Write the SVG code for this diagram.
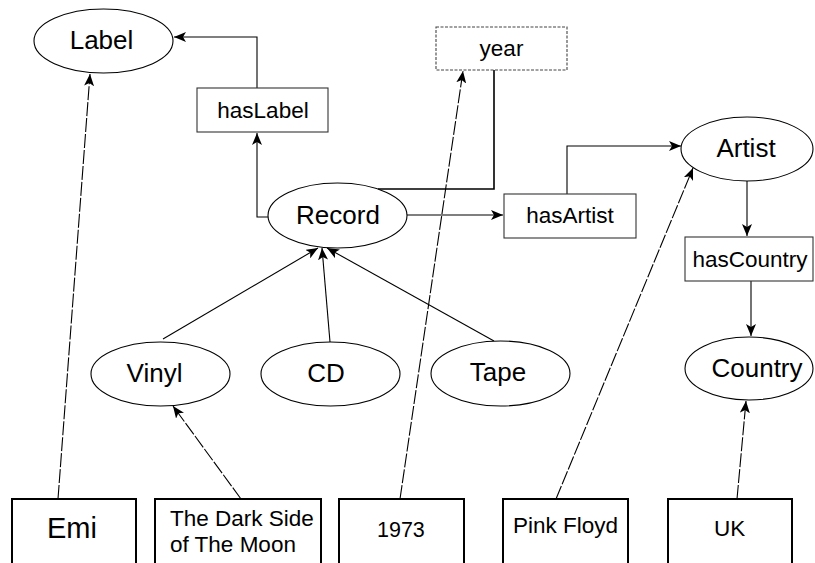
<svg xmlns="http://www.w3.org/2000/svg" width="815" height="563" viewBox="0 0 815 563">
<style>
  .ell { fill: #fff; stroke: #000; stroke-width: 1.1; }
  .box { fill: #fff; stroke: #333; stroke-width: 1.1; }
  .inst { fill: #fff; stroke: #000; stroke-width: 2; }
  .t { font-family: "Liberation Sans", Arial, sans-serif; fill: #000; }
  .e { font-size: 26px; text-anchor: middle; }
  .b { font-size: 22.5px; text-anchor: middle; }
  .i { font-size: 22.5px; }
  .con { fill: none; stroke: #000; stroke-width: 1.1; }
  .dash { stroke-dasharray: 14 2; }
</style>
<defs>
  <marker id="arr" viewBox="0 0 12 10" refX="12" refY="5" markerWidth="12" markerHeight="10" markerUnits="userSpaceOnUse" orient="auto">
    <path d="M0,0 L12,5 L0,10 L3,5 z" fill="#000"/>
  </marker>
</defs>

<g id="connectors">
  <path class="con" d="M257,88 L257,37 L174,37" marker-end="url(#arr)"/>
  <path class="con" d="M268,217 L257,217 L257,133" marker-end="url(#arr)"/>
  <path class="con" d="M378,189 L494,189 L494,70" style="stroke-width:1.6"/>
  <path class="con" d="M407,215 L503,215" marker-end="url(#arr)"/>
  <path class="con" d="M567,194 L567,146 L681,146" marker-end="url(#arr)"/>
  <path class="con" d="M747,181 L747,236" marker-end="url(#arr)"/>
  <path class="con" d="M751,281 L751,336" marker-end="url(#arr)"/>
  <path class="con" d="M163,339 L318,248" marker-end="url(#arr)"/>
  <path class="con" d="M330,342 L322,248" marker-end="url(#arr)"/>
  <path class="con" d="M494,341 L327,248" marker-end="url(#arr)"/>
  <path class="con dash" d="M58,499 L90,74" marker-end="url(#arr)"/>
  <path class="con dash" d="M241,499 L173,406" marker-end="url(#arr)"/>
  <path class="con dash" d="M400,499 L463,71" marker-end="url(#arr)"/>
  <path class="con dash" d="M556,499 L693,168" marker-end="url(#arr)"/>
  <path class="con dash" d="M737,499 L746,401" marker-end="url(#arr)"/>
</g>

<g id="Label"><ellipse class="ell" cx="103.5" cy="41" rx="69.5" ry="32"/><text class="t e" x="101.5" y="49">Label</text></g>
<g id="hasLabel"><rect class="box" x="197" y="88" width="131" height="44"/><text class="t b" x="263" y="118">hasLabel</text></g>
<g id="year"><rect class="box" x="436" y="27" width="131" height="43" style="stroke-dasharray:3 1.5;stroke:#444"/><text class="t b" x="501.5" y="56">year</text></g>
<g id="Record"><ellipse class="ell" cx="337.5" cy="215.5" rx="69.5" ry="32.5"/><text class="t e" x="338" y="223.5">Record</text></g>
<g id="hasArtist"><rect class="box" x="504" y="194" width="132" height="44"/><text class="t b" x="570" y="223">hasArtist</text></g>
<g id="Artist"><ellipse class="ell" cx="747" cy="149" rx="66" ry="32"/><text class="t e" x="746" y="157">Artist</text></g>
<g id="hasCountry"><rect class="box" x="685" y="237" width="128" height="44"/><text class="t b" x="750" y="267">hasCountry</text></g>
<g id="Country"><ellipse class="ell" cx="749" cy="368.5" rx="64" ry="31.5"/><text class="t e" x="757" y="377">Country</text></g>
<g id="Vinyl"><ellipse class="ell" cx="160.5" cy="374" rx="69.5" ry="32"/><text class="t e" x="154.5" y="382">Vinyl</text></g>
<g id="CD"><ellipse class="ell" cx="330.5" cy="374" rx="69.5" ry="32"/><text class="t e" x="326" y="382">CD</text></g>
<g id="Tape"><ellipse class="ell" cx="500.5" cy="373.5" rx="69.5" ry="32.5"/><text class="t e" x="498" y="381">Tape</text></g>

<g id="Emi"><rect class="inst" x="12" y="499" width="124" height="70"/><text class="t" x="47" y="538" style="font-size:29px">Emi</text></g>
<g id="DarkSide"><rect class="inst" x="155" y="499" width="166" height="70"/><text class="t i" x="170" y="526">The Dark Side</text><text class="t i" x="170" y="552">of The Moon</text></g>
<g id="y1973"><rect class="inst" x="339" y="499" width="125" height="70"/><text class="t" x="377" y="537" style="font-size:21.5px">1973</text></g>
<g id="PinkFloyd"><rect class="inst" x="503" y="499" width="125" height="70"/><text class="t i" x="513" y="533">Pink Floyd</text></g>
<g id="UK"><rect class="inst" x="668" y="499" width="124" height="70"/><text class="t i" x="714" y="536">UK</text></g>
</svg>
